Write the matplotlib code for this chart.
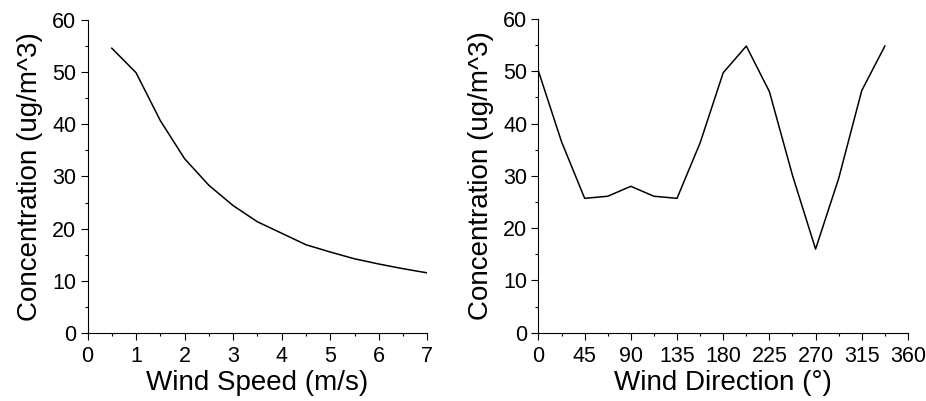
import matplotlib
matplotlib.use('Agg')

import matplotlib.pyplot as plt
from matplotlib.ticker import MultipleLocator

plt.rcParams['font.family'] = ['Liberation Sans', 'DejaVu Sans']

# Concentration vs wind speed
speed = [0.5, 1.0, 1.5, 2.0, 2.5, 3.0, 3.5, 4.0, 4.5, 5.0, 5.5, 6.0, 6.5, 7.0]
conc_speed = [54.6, 49.9, 40.7, 33.4, 28.3, 24.4, 21.3, 19.1, 16.9, 15.5, 14.2, 13.2, 12.3, 11.5]

# Concentration vs wind direction
direction = [0, 22.5, 45, 67.5, 90, 112.5, 135, 157.5, 180, 202.5,
             225, 247.5, 270, 292.5, 315, 337.5]
conc_dir = [50.0, 36.5, 25.7, 26.1, 28.0, 26.1, 25.7, 36.3, 49.7, 54.8,
            46.1, 30.1, 16.0, 29.5, 46.3, 54.8]

LABEL_SIZE = 20
TICK_SIZE = 15.5

fig = plt.figure(figsize=(9.26, 4.01), dpi=100)
ax1 = fig.add_axes([0.0945, 0.170, 0.367, 0.780])
ax2 = fig.add_axes([0.5815, 0.170, 0.399, 0.783])


def style(ax):
    for side in ['top', 'right']:
        ax.spines[side].set_visible(False)
    for side in ['left', 'bottom']:
        ax.spines[side].set_linewidth(0.8)
    ax.tick_params(which='major', direction='out', length=5, width=0.8,
                   labelsize=TICK_SIZE)
    ax.tick_params(which='minor', direction='out', length=2.3, width=0.8)
    ax.tick_params(axis='x', which='major', pad=4.5)
    ax.tick_params(axis='y', which='major', pad=3)
    ax.set_ylim(0, 60)
    ax.yaxis.set_major_locator(MultipleLocator(10))
    ax.yaxis.set_minor_locator(MultipleLocator(5))
    ax.set_ylabel('Concentration (ug/m^3)', fontsize=LABEL_SIZE, labelpad=7)


ax1.plot(speed, conc_speed, color='black', linewidth=1.1)
style(ax1)
ax1.set_xlim(0, 7)
ax1.xaxis.set_major_locator(MultipleLocator(1))
ax1.xaxis.set_minor_locator(MultipleLocator(0.5))
ax1.set_xlabel('Wind Speed (m/s)', fontsize=LABEL_SIZE, labelpad=2.5)

ax2.plot(direction, conc_dir, color='black', linewidth=1.1)
style(ax2)
ax2.set_xlim(0, 360)
ax2.xaxis.set_major_locator(MultipleLocator(45))
ax2.xaxis.set_minor_locator(MultipleLocator(22.5))
ax2.set_xlabel('Wind Direction (°)', fontsize=LABEL_SIZE, labelpad=2.5)

fig.savefig('out.png', dpi=100)
